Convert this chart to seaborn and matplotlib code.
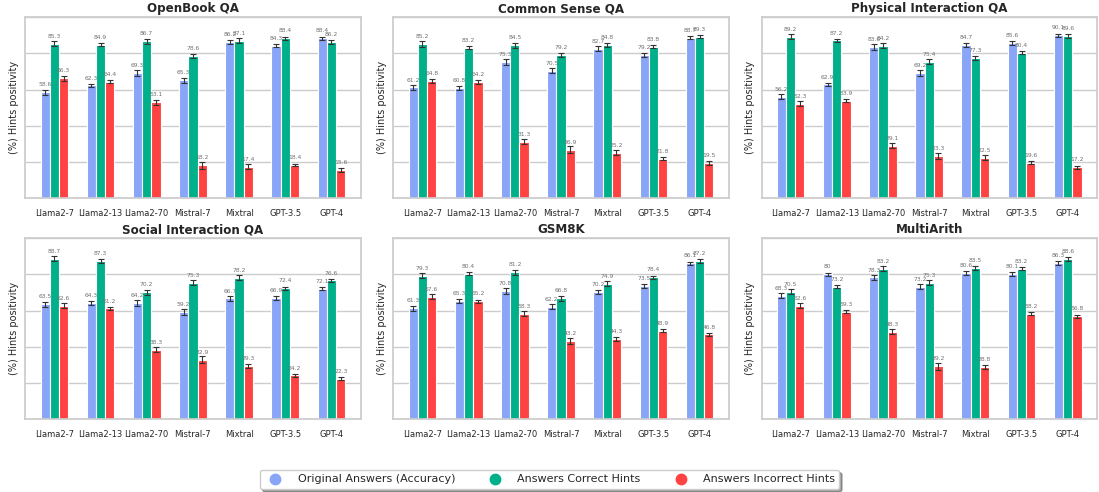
import numpy as np
import pandas as pd
import seaborn as sns
import matplotlib.pyplot as plt
from matplotlib.lines import Line2D

# Modelle und Reihen
models = ["Llama2-7", "Llama2-13", "Llama2-70", "Mistral-7", "Mixtral", "GPT-3.5", "GPT-4"]
series = ["Original Answers (Accuracy)", "Answers Correct Hints", "Answers Incorrect Hints"]
titles = ["OpenBook QA", "Common Sense QA", "Physical Interaction QA",
          "Social Interaction QA", "GSM8K", "MultiArith"]

# Werte pro Datensatz
openbook_orig = [58.6, 62.3, 69.3, 65.3, 86.2, 84.3, 88.4]
openbook_correct = [85.3, 84.9, 86.7, 78.6, 87.1, 88.4, 86.2]
openbook_incorrect = [66.3, 64.4, 53.1, 18.2, 17.4, 18.4, 15.6]

commonsense_orig = [61.2, 60.8, 75.3, 70.5, 82.7, 79.2, 88.7]
commonsense_correct = [85.2, 83.2, 84.5, 79.2, 84.8, 83.8, 89.3]
commonsense_incorrect = [64.8, 64.2, 31.3, 26.9, 25.2, 21.8, 19.5]

physical_orig = [56.2, 62.9, 83.6, 69.2, 84.7, 85.6, 90.1]
physical_correct = [89.2, 87.2, 84.2, 75.4, 77.3, 80.4, 89.6]
physical_incorrect = [52.3, 53.9, 29.1, 23.3, 22.5, 19.6, 17.2]

social_orig = [63.5, 64.3, 64.2, 59.2, 66.7, 66.9, 72.1]
social_correct = [88.7, 87.3, 70.2, 75.3, 78.2, 72.4, 76.6]
social_incorrect = [62.6, 61.2, 38.3, 32.9, 29.3, 24.2, 22.3]

gsm8k_orig = [61.3, 65.3, 70.8, 62.2, 70.2, 73.5, 86.1]
gsm8k_correct = [79.3, 80.4, 81.2, 66.8, 74.9, 78.4, 87.2]
gsm8k_incorrect = [67.6, 65.2, 58.3, 43.2, 44.3, 48.9, 46.8]

multiarith_orig = [68.3, 80.0, 78.3, 73.2, 80.6, 80.1, 86.3]
multiarith_correct = [70.5, 73.2, 83.2, 75.3, 83.5, 83.2, 88.6]
multiarith_incorrect = [62.6, 59.3, 48.3, 29.2, 28.8, 58.2, 56.8]

# Fehlerbalken (halbe Länge, geschätzt)
err_orig = [1.3, 1.0, 1.5, 1.4, 1.2, 1.0, 0.9]
err_correct = [1.4, 0.9, 1.4, 1.3, 1.2, 0.8, 1.0]
err_incorrect = [1.3, 0.9, 1.4, 1.8, 1.3, 0.8, 0.9]

panels = [
    (openbook_orig, openbook_correct, openbook_incorrect),
    (commonsense_orig, commonsense_correct, commonsense_incorrect),
    (physical_orig, physical_correct, physical_incorrect),
    (social_orig, social_correct, social_incorrect),
    (gsm8k_orig, gsm8k_correct, gsm8k_incorrect),
    (multiarith_orig, multiarith_correct, multiarith_incorrect),
]
errs = (err_orig, err_correct, err_incorrect)

colors = ["#89a5f8", "#00b08b", "#ff4242"]

sns.set_theme(style="whitegrid")
fig, axes = plt.subplots(2, 3, figsize=(10.99, 4.92), dpi=100)
fig.subplots_adjust(left=0.023, right=0.998, top=0.965, bottom=0.148,
                    wspace=0.098, hspace=0.22)

for ax, title, vals in zip(axes.flat, titles, panels):
    df = pd.DataFrame({
        "model": models * 3,
        "answer": np.repeat(series, len(models)),
        "value": np.concatenate(vals),
    })
    sns.barplot(data=df, x="model", y="value", hue="answer", hue_order=series,
                palette=colors, saturation=1, width=0.6, errorbar=None,
                edgecolor="white", linewidth=0.8, legend=False, ax=ax)
    for cont, v, e in zip(ax.containers, vals, errs):
        xs = [p.get_x() + p.get_width() / 2 for p in cont]
        ax.errorbar(xs, v, yerr=e, fmt="none", ecolor="#333333",
                    elinewidth=0.8, capsize=2.5, capthick=0.8)
        ax.bar_label(cont, labels=[f"{x:g}" for x in v], padding=3.5,
                     fontsize=4.3, color="#707070")
    ax.set_ylim(0, 100)
    ax.set_yticks([0, 20, 40, 60, 80, 100])
    ax.set_yticklabels([])
    ax.set_xlim(-0.63, 6.63)
    ax.set_xlabel("")
    ax.set_ylabel("(%) Hints positivity", fontsize=7)
    ax.yaxis.set_label_coords(-0.02, 0.5)
    ax.tick_params(axis="x", labelsize=6, pad=2)
    ax.set_title(title, fontsize=8.6, fontweight="bold", pad=3.5)

handles = [Line2D([], [], marker="o", linestyle="", markersize=7.5, color=c)
           for c in colors]
fig.legend(handles, series, loc="lower center", bbox_to_anchor=(0.5, -0.005),
           ncol=3, fontsize=8, frameon=True, shadow=True,
           columnspacing=2.6, handletextpad=1.0)

fig.savefig("out.png", dpi=100)
